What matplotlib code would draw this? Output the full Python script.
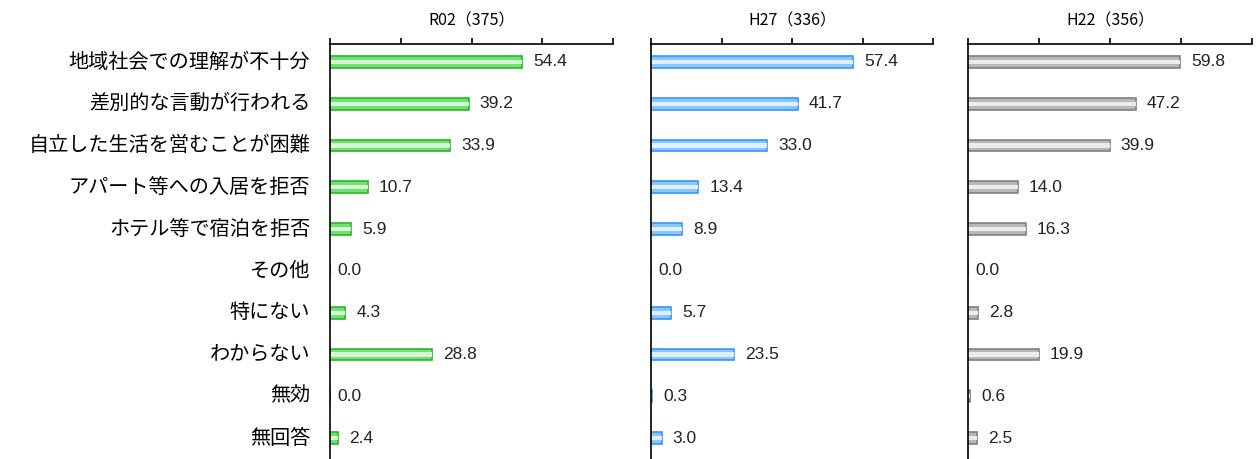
import matplotlib
matplotlib.use('Agg')
import matplotlib.pyplot as plt
import numpy as np

categories = ['地域社会での理解が不十分', '差別的な言動が行われる', '自立した生活を営むことが困難',
              'アパート等への入居を拒否', 'ホテル等で宿泊を拒否', 'その他', '特にない',
              'わからない', '無効', '無回答']
titles = ['R02（375）', 'H27（336）', 'H22（356）']
r02 = [54.4, 39.2, 33.9, 10.7, 5.9, 0.0, 4.3, 28.8, 0.0, 2.4]
h27 = [57.4, 41.7, 33.0, 13.4, 8.9, 0.0, 5.7, 23.5, 0.3, 3.0]
h22 = [59.8, 47.2, 39.9, 14.0, 16.3, 0.0, 2.8, 19.9, 0.6, 2.5]

# edge, face, highlight
styles = [('#22bb22', '#77dd77', '#d4f7d4'),
          ('#3399ff', '#8cc6ff', '#deefff'),
          ('#808080', '#b8b8b8', '#ececec')]

jp = ['Noto Sans CJK JP', 'DejaVu Sans']
num = ['Liberation Sans', 'DejaVu Sans']

fig = plt.figure(figsize=(12.57, 4.59), dpi=100)
lefts = [330/1257, 651/1257, 968/1257]
widths = [283/1257, 282/1257, 284/1257]
top = 44/459

y = np.arange(len(categories))
for k, vals in enumerate([r02, h27, h22]):
    ax = fig.add_axes([lefts[k], 0, widths[k], 1 - top])
    edge, face, hi = styles[k]
    ax.barh(y, vals, height=0.28, color=face, edgecolor=edge, linewidth=1.2)
    ax.barh(y, vals, height=0.1, color=hi, linewidth=0)
    for yi, v in zip(y, vals):
        off = 5 if v == 0 else 8
        ax.annotate('%.1f' % v, (v, yi), xytext=(off, 0), textcoords='offset points',
                    va='center', ha='left', fontsize=12.5, family=num, color='#222222')
    ax.set_xlim(0, 80)
    ax.set_ylim(9.5, -0.43)
    ax.xaxis.tick_top()
    ax.set_xticks([0, 20, 40, 60, 80])
    ax.set_xticklabels([])
    ax.tick_params(axis='x', direction='out', length=4, width=1.2, color='black')
    ax.set_yticks([])
    for s in ['right', 'bottom']:
        ax.spines[s].set_visible(False)
    ax.spines['left'].set_linewidth(1.2)
    ax.spines['top'].set_linewidth(1.2)
    ax.set_title(titles[k], fontsize=11.5, family=jp, pad=13)
    if k == 0:
        for yi, c in zip(y, categories):
            ax.text(-0.07, yi, c, transform=ax.get_yaxis_transform(), ha='right', va='center',
                    fontsize=14.5, family=jp)

fig.savefig('out.png', dpi=100)
